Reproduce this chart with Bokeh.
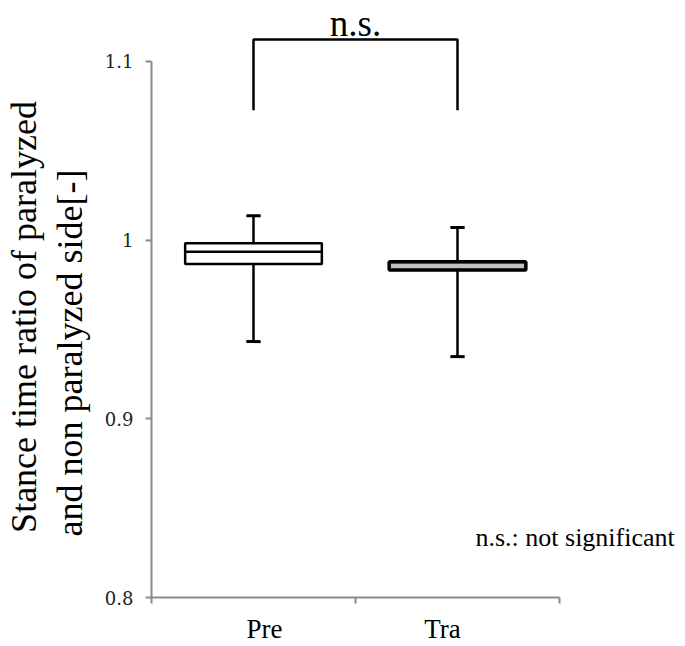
from bokeh.plotting import figure
from bokeh.models import Range1d, FixedTicker, NumeralTickFormatter, Label
from bokeh.embed import file_html
from bokeh.resources import INLINE

# ---- data ----
groups = ["Pre", "Tra"]
group_x = [1, 2]
label_x = [1.054, 1.926]
q1 = [0.9866, 0.9832]
median = [0.9935, 0.9877]
q3 = [0.9982, 0.9879]
whisk_lo = [0.9432, 0.9348]
whisk_hi = [1.0136, 1.0071]
box_fill = ["#ffffff", "#c0c0c0"]
box_lw = [2.5, 3.5]

y_ticks = [0.8, 0.9, 1.0, 1.1]
cat_bounds = [0.5, 1.5, 2.5]
bracket_lo = 1.0726
bracket_hi = 1.1123
sig_text = "n.s."
note_text = "n.s.: not significant"
title_lines = ["Stance time ratio of paralyzed", "and non paralyzed side[-]"]
# non-breaking spaces: both lines start at the same point (left-aligned look)
title_pad = [4, 12]
y_title = "\n".join(t + "\u00a0" * n for t, n in zip(title_lines, title_pad))

SERIF = "Liberation Serif"

p = figure(width=685, height=646, output_backend="svg", toolbar_location=None,
           x_range=Range1d(0.5, 0.5 + 534 / 204), y_range=Range1d(0.8, 0.8 + 598 / 1790),
           min_border_left=151, min_border_right=0, min_border_top=0, min_border_bottom=48)
p.outline_line_color = None
p.grid.visible = False
p.background_fill_color = "white"
p.border_fill_color = "white"

axis_col = "#8a8a8a"
# y axis
ya = p.yaxis[0]
ya.ticker = FixedTicker(ticks=y_ticks)
ya.formatter = NumeralTickFormatter(format="0.[0]")
ya.bounds = (0.8, 1.1)
ya.axis_line_color = axis_col
ya.axis_line_width = 2
ya.major_tick_line_color = axis_col
ya.major_tick_line_width = 2
ya.major_tick_out = 6
ya.major_tick_in = 0
ya.minor_tick_line_color = None
ya.major_label_standoff = 12
ya.major_label_text_font = "DejaVu Serif"
ya.major_label_text_font_size = "18px"
ya.major_label_text_color = "#222222"
ya.axis_label = y_title
ya.axis_label_text_font = SERIF
ya.axis_label_text_font_size = "36px"
ya.axis_label_text_font_style = "normal"
ya.axis_label_text_color = "black"
ya.axis_label_text_line_height = 1.15
ya.axis_label_standoff = 12

# x axis: category boundaries as (minor) tick marks, group names as labels
xa = p.xaxis[0]
xa.ticker = FixedTicker(ticks=label_x, minor_ticks=cat_bounds)
xa.major_label_overrides = {label_x[i]: groups[i] for i in range(len(groups))}
xa.bounds = (0.5, 2.5)
xa.axis_line_color = axis_col
xa.axis_line_width = 2
xa.major_tick_line_color = None
xa.major_tick_out = 0
xa.major_tick_in = 0
xa.minor_tick_line_color = axis_col
xa.minor_tick_line_width = 2
xa.minor_tick_out = 6
xa.minor_tick_in = 0
xa.major_label_standoff = 10
xa.major_label_text_font = SERIF
xa.major_label_text_font_size = "27px"
xa.major_label_text_color = "black"

# whiskers
for i in range(len(groups)):
    x = group_x[i]
    p.segment(x0=[x, x], y0=[q3[i], q1[i]], x1=[x, x], y1=[whisk_hi[i], whisk_lo[i]],
              line_color="black", line_width=2.5)
    p.segment(x0=[x - 0.035, x - 0.035], y0=[whisk_hi[i], whisk_lo[i]],
              x1=[x + 0.035, x + 0.035], y1=[whisk_hi[i], whisk_lo[i]],
              line_color="black", line_width=3)

# boxes
for i in range(len(groups)):
    x = group_x[i]
    p.vbar(x=[x], width=0.67, bottom=[q1[i]], top=[q3[i]], fill_color=box_fill[i],
           line_color="black", line_width=box_lw[i])
    p.segment(x0=[x - 0.335], y0=[median[i]], x1=[x + 0.335], y1=[median[i]],
              line_color="black", line_width=2.5)

# significance bracket
p.line(x=[group_x[0], group_x[0], group_x[1], group_x[1]],
       y=[bracket_lo, bracket_hi, bracket_hi, bracket_lo],
       line_color="black", line_width=2.5)

p.add_layout(Label(x=1.5, y=1.1212, text=sig_text, text_font=SERIF, text_font_size="37px",
                   text_align="center", text_baseline="alphabetic", text_color="black"))
p.add_layout(Label(x=2.088, y=0.8335, text=note_text, text_font=SERIF, text_font_size="26px",
                   text_align="left", text_baseline="alphabetic", text_color="black"))

open("out.html", "w").write(file_html(p, INLINE))
